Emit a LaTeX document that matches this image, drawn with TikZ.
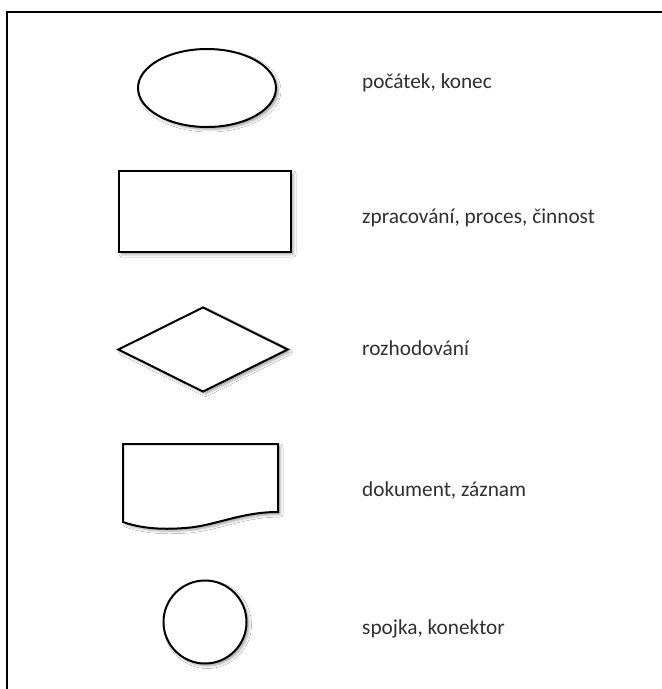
\documentclass[tikz,border=0pt]{standalone}
\usepackage{fontspec}
\setmainfont{Carlito}
\usetikzlibrary{shapes.geometric,shadows.blur}
\definecolor{txt}{HTML}{303030}
\begin{document}
\begin{tikzpicture}[x=1pt,y=-1pt,
  shp/.style={draw=black,line width=2pt,fill=white,
    blur shadow={shadow xshift=2.5pt,shadow yshift=-2.5pt,shadow blur radius=2.5pt,shadow opacity=35}},
  lbl/.style={anchor=base west,text=txt,font=\fontsize{21.3}{25}\selectfont,inner sep=0pt}]
\useasboundingbox (0,0) rectangle (662,689);
\fill[white] (0,0) rectangle (662,689);
% frame
\draw[line width=2.4pt] (7,700) -- (7,12) -- (670,12);
% shapes
\node[shp,ellipse,minimum width=138pt,minimum height=78pt,inner sep=0pt] (start) at (207,88) {};
\node[shp,rectangle,minimum width=172pt,minimum height=81pt,inner sep=0pt] (proc) at (205,211.5) {};
\node[shp,diamond,minimum width=170pt,minimum height=85pt,inner sep=0pt,aspect=2] (dec) at (203,349.5) {};
\path[shp] (123,444) -- (278,444) -- (278,512)
  .. controls (240,512) and (215,526) .. (185,528)
  .. controls (160,530) and (140,528) .. (123,522) -- cycle;
\coordinate (doc) at (200,485);
\node[shp,circle,minimum size=83pt,inner sep=0pt] (conn) at (205,622) {};
% labels
\node[lbl] (t1) at (362,88) {počátek, konec};
\node[lbl] (t2) at (362,223) {zpracování, proces, činnost};
\node[lbl] (t3) at (362,355) {rozhodování};
\node[lbl] (t4) at (362,496) {dokument, záznam};
\node[lbl] (t5) at (362,634) {spojka, konektor};
\end{tikzpicture}
\end{document}
